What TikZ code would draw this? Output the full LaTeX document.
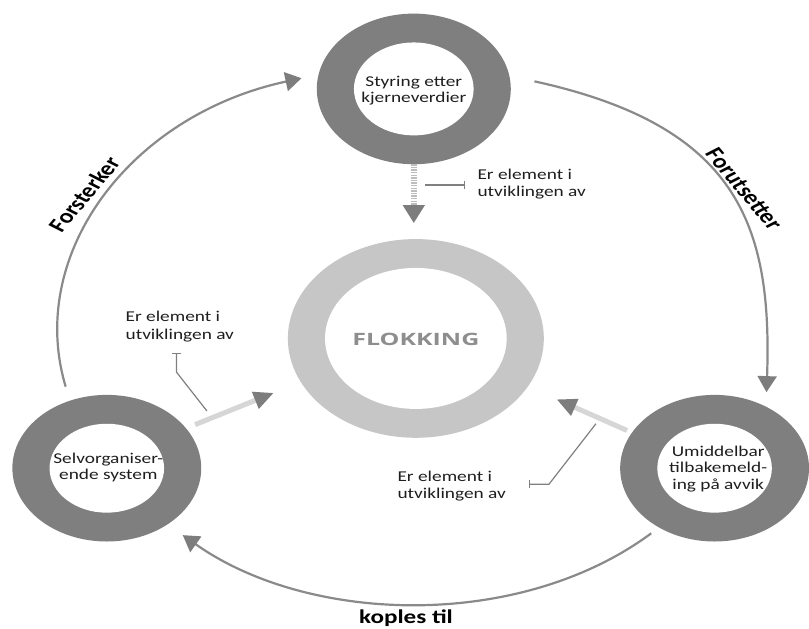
\documentclass[tikz,border=0pt]{standalone}
\usepackage{fontspec}
\setmainfont{Carlito}
\newfontfamily\flokfont{Open Sans}
\usetikzlibrary{arrows.meta}
\definecolor{ringdark}{HTML}{7F7F7F}
\definecolor{ringlight}{HTML}{C6C6C6}
\definecolor{arcgray}{HTML}{8A8A8A}
\definecolor{headgray}{HTML}{7D7D7D}
\definecolor{teegray}{HTML}{808080}
\definecolor{shaftgray}{HTML}{D6D6D6}
\definecolor{dotgray}{HTML}{BDBDBD}
\definecolor{flokgray}{HTML}{8E8E8E}
\definecolor{txt}{HTML}{1E1E1E}
\begin{document}
\begin{tikzpicture}[x=0.51594pt, y=-0.40051pt,
  sx/.style={xscale=1.2882},
  disk/.style={circle, inner sep=0pt, outer sep=0pt, sx},
  ringouter/.style={disk, fill=ringdark},
  ringinner/.style={disk, fill=white},
  ringtext/.style={sx, align=center, inner sep=0pt, text=txt, font=\fontsize{15}{16.5}\selectfont},
  elabel/.style={sx, align=left, inner sep=0pt, anchor=west, text=txt, font=\fontsize{15}{17.5}\selectfont},
  arclabel/.style={inner sep=0pt, text=black, font=\bfseries\fontsize{20}{22}\selectfont},
  bigarc/.style={draw=arcgray, line width=2.2pt, -{Triangle[length=16pt, width=19pt, color=headgray]}},
  feed/.style={draw=shaftgray, line width=5pt, -{Triangle[length=20pt, width=17pt, color=headgray]}},
  dotarrow/.style={draw=dotgray, line width=6.5pt, dash pattern=on 1.3pt off 1.3pt, -{Triangle[length=18pt, width=21pt, color=headgray]}},
  tee/.style={draw=teegray, line width=1.2pt, -{Bar[width=8.5pt, line width=1.2pt]}},
]
\fill[white] (0,0) rectangle (1568,1568);
\path[use as bounding box] (0,0) rectangle (1568,1568);

% rings
\node[disk, fill=ringlight, minimum size=198.7pt] (flokout) at (806,845) {};
\node[ringinner, minimum size=141pt] (flokin) at (flokout) {};
\node[sx, inner sep=0pt, text=flokgray, font=\flokfont\bfseries\fontsize{17}{20}\selectfont] (flok) at (806,848) {\scalebox{1.14}[1]{FLOKKING}};

\node[ringouter, minimum size=150.6pt] (top) at (802,222) {};
\node[ringinner, minimum size=92.9pt] (topin) at (top) {};
\node[ringtext] (toptxt) at (802,226) {Styring etter\\kjerneverdier};

\node[ringouter, minimum size=146.6pt] (left) at (207,1169) {};
\node[ringinner, minimum size=88.9pt] (leftin) at (left) {};
\node[ringtext] (lefttxt) at (210,1167) {Selvorganiser-\\ende system};

\node[ringouter, minimum size=146.6pt] (right) at (1385,1169) {};
\node[ringinner, minimum size=88.9pt] (rightin) at (right) {};
\node[ringtext] (righttxt) at (1392,1171) {Umiddelbar\\tilbakemeld-\\ing på avvik};

% outer cycle arcs
\draw[bigarc, shorten <=14.7pt, shorten >=17.5pt] (left.113) .. controls (50.4,635.2) and (251.3,287.6) .. (top.169);
\draw[bigarc, shorten <=25.7pt, shorten >=14.6pt] (top.10) .. controls (1429.4,314) and (1497,560) .. (right.57);
\draw[bigarc, shorten <=9.8pt, shorten >=18.7pt] (right.234) .. controls (1008.1,1573.7) and (599.9,1559.6) .. (left.-50);

\node[arclabel, sx, rotate=56.7] (forst) at (163,485) {Forsterker};
\node[arclabel, sx, rotate=-56.6] (forut) at (1442,472) {Forutsetter};
\node[arclabel, sx, anchor=base, font=\bfseries\fontsize{19.5}{22}\selectfont] (koples) at (787,1557) {koples til};

% arrows into FLOKKING
\draw[dotarrow, shorten >=16pt] (top.south) -- (top.south |- flokout.north);
\draw[feed, shorten <=9.9pt, shorten >=29.1pt] (left.33) -- (flokout.206);
\draw[feed, shorten <=5.4pt, shorten >=31.4pt] (right.151) -- (flokout.-29.5);

% labels
\node[elabel] (lab1) at (925,459) {Er element i\\utviklingen av};
\node[elabel] (lab2) at (243,815) {Er element i\\utviklingen av};
\node[elabel] (lab3) at (770,1214) {Er element i\\utviklingen av};

% tee connectors
\coordinate (t1a) at (824,462);
\coordinate (t1b) at (901,462);
\draw[tee] (t1a) -- (t1b);
\coordinate (t2a) at (401,1026);
\coordinate (t2b) at (342,929);
\coordinate (t2c) at (342,881);
\draw[tee] (t2a) -- (t2b) -- (t2c);
\coordinate (t3a) at (1155,1058);
\coordinate (t3b) at (1064,1209);
\coordinate (t3c) at (1025,1209);
\draw[tee] (t3a) -- (t3b) -- (t3c);
\end{tikzpicture}
\end{document}
